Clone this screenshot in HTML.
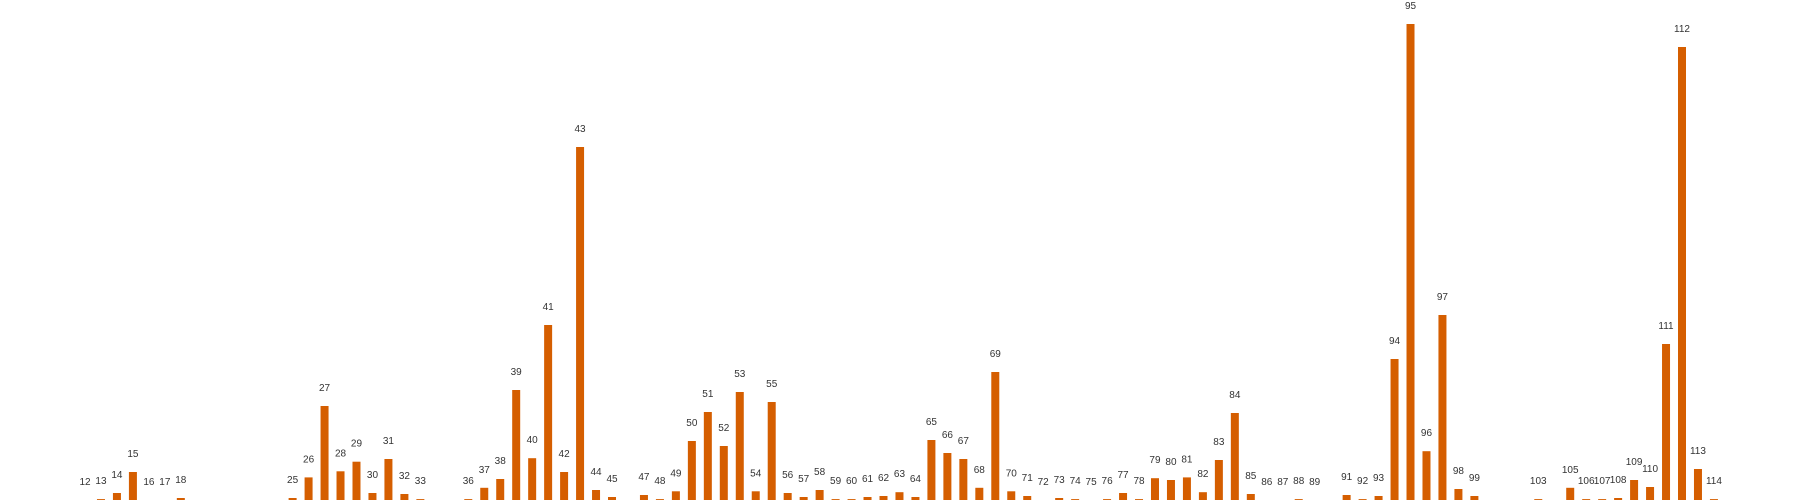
<!DOCTYPE html>
<html><head><meta charset="utf-8"><style>
html,body{margin:0;padding:0;background:#fff;width:1800px;height:500px;overflow:hidden}
svg text{font-family:"Liberation Sans",sans-serif;font-size:10px;fill:#333;text-anchor:middle}
</style></head><body>
<svg id="chart" width="1800" height="500" xmlns="http://www.w3.org/2000/svg"></svg>
<script>
const categories = [12,13,14,15,16,17,18,25,26,27,28,29,30,31,32,33,36,37,38,39,40,41,42,43,44,45,47,48,49,50,51,52,53,54,55,56,57,58,59,60,61,62,63,64,65,66,67,68,69,70,71,72,73,74,75,76,77,78,79,80,81,82,83,84,85,86,87,88,89,91,92,93,94,95,96,97,98,99,103,105,106,107,108,109,110,111,112,113,114];
const values = [0,0.9,7,28,0,0,2,2,22.6,94,28.7,38.3,7,41,6,0.9,0.9,12.2,21,110,41.8,175,28,353,10,3,5,0.9,8.7,59,88,54,108,8.7,98,7,3,10,0.9,0.9,3,4,7.8,3,60,47,41,12.2,128,8.7,4,0,2,0.9,0,0.9,7,0.9,21.8,20,22.6,7.8,40,87,6,0,0,0.9,0,5,0.9,4,141,476,48.8,185,11,4,0.9,12.2,0.9,0.9,2,20,13,156,453,31,0.9];
const svg = document.getElementById('chart');
const NS = 'http://www.w3.org/2000/svg';
const W = 1800, H = 500;
function xScale(c){ return 85 + (c - 12) * 15.97; }
function yScale(v){ return H - v; }
const bw = 8;
categories.forEach((c, i) => {
  const v = values[i];
  const x = xScale(c);
  const r = document.createElementNS(NS, 'rect');
  r.setAttribute('x', x - bw/2);
  r.setAttribute('y', yScale(v));
  r.setAttribute('width', bw);
  r.setAttribute('height', Math.max(0, H - yScale(v)));
  r.setAttribute('fill', '#d55e00');
  
  
  svg.appendChild(r);
  const t = document.createElementNS(NS, 'text');
  t.setAttribute('x', x);
  t.setAttribute('y', yScale(v) - 15);
  t.textContent = String(c);
  
  
  svg.appendChild(t);
});
</script>
</body></html>
